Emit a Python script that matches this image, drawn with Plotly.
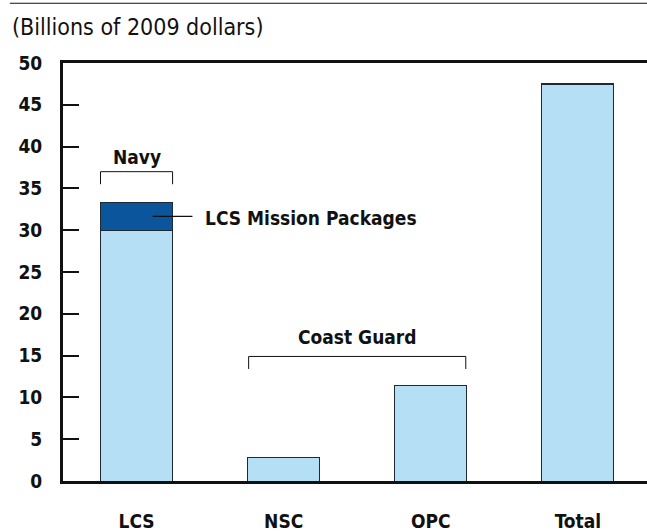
import plotly.graph_objects as go

categories = ["LCS", "NSC", "OPC", "Total"]
ship_costs = [30.0, 2.8, 11.4, 47.5]
mission_package_costs = [3.3, 0, 0, 0]
y_ticks = [0, 5, 10, 15, 20, 25, 30, 35, 40, 45, 50]

FONT = "DejaVu Sans Condensed, Liberation Sans Narrow, Arial Narrow, sans-serif"
LIGHT = "#b5dff4"
DARK = "#0b559c"
EDGE = "#1f2a33"
INK = "#111111"

fig = go.Figure()
fig.add_trace(go.Bar(x=categories, y=ship_costs, marker=dict(color=LIGHT, line=dict(color=EDGE, width=1)),
                     width=0.49, showlegend=False, hoverinfo="y"))
fig.add_trace(go.Bar(x=categories, y=mission_package_costs, marker=dict(color=DARK, line=dict(color=EDGE, width=1.2)),
                     width=0.49, showlegend=False, hoverinfo="y"))

bold = dict(family=FONT, size=19, color=INK, weight="bold")

fig.update_layout(
    width=647, height=532,
    margin=dict(l=63, r=0, t=63, b=47),
    barmode="stack",
    plot_bgcolor="white", paper_bgcolor="white",
    font=dict(family=FONT, size=19, color=INK),
    xaxis=dict(range=[-0.5, 3.47], showline=True, linecolor=INK, linewidth=3, mirror=True,
               ticks="", showgrid=False, zeroline=False, tickfont=bold,
               ticklabelstandoff=21),
    yaxis=dict(range=[0, 50], tickvals=y_ticks, showline=True, linecolor=INK, linewidth=3,
               ticks="inside", ticklen=16, tickwidth=1.5, tickcolor=INK, showgrid=False, zeroline=False,
               tickfont=bold, ticklabelstandoff=14),
)

# thin rule at the very top
fig.add_shape(type="line", xref="paper", yref="paper", x0=-0.091, x1=1.01, y0=1.143, y1=1.143,
              line=dict(color=INK, width=1.2))

fig.add_annotation(text="(Billions of 2009 dollars)", xref="paper", yref="paper", x=-0.091, y=1.087,
                   xanchor="left", yanchor="middle", showarrow=False,
                   font=dict(family=FONT, size=23, color=INK))

# Navy bracket
fig.add_shape(type="path", xref="x", yref="y", path="M -0.245,35.5 L -0.245,37.0 L 0.245,37.0 L 0.245,35.5",
              line=dict(color=INK, width=1))
fig.add_annotation(text="Navy", x=0, y=38.8, xref="x", yref="y", showarrow=False,
                   xanchor="center", yanchor="middle", font=bold)

# LCS Mission Packages leader
fig.add_shape(type="line", xref="x", yref="y", x0=0.11, x1=0.38, y0=31.65, y1=31.65,
              line=dict(color=INK, width=1.2))
fig.add_annotation(text="LCS Mission Packages", x=0.45, y=31.45, xref="x", yref="y", showarrow=False,
                   xanchor="left", yanchor="middle", font=bold)

# Coast Guard bracket
fig.add_shape(type="path", xref="x", yref="y", path="M 0.762,13.4 L 0.762,14.9 L 2.238,14.9 L 2.238,13.4",
              line=dict(color=INK, width=1))
fig.add_annotation(text="Coast Guard", x=1.5, y=17.2, xref="x", yref="y", showarrow=False,
                   xanchor="center", yanchor="middle", font=bold)

fig.write_html("out.html", config={"displayModeBar": False},
               post_script="document.body.style.margin='0';document.body.style.overflow='hidden';")
